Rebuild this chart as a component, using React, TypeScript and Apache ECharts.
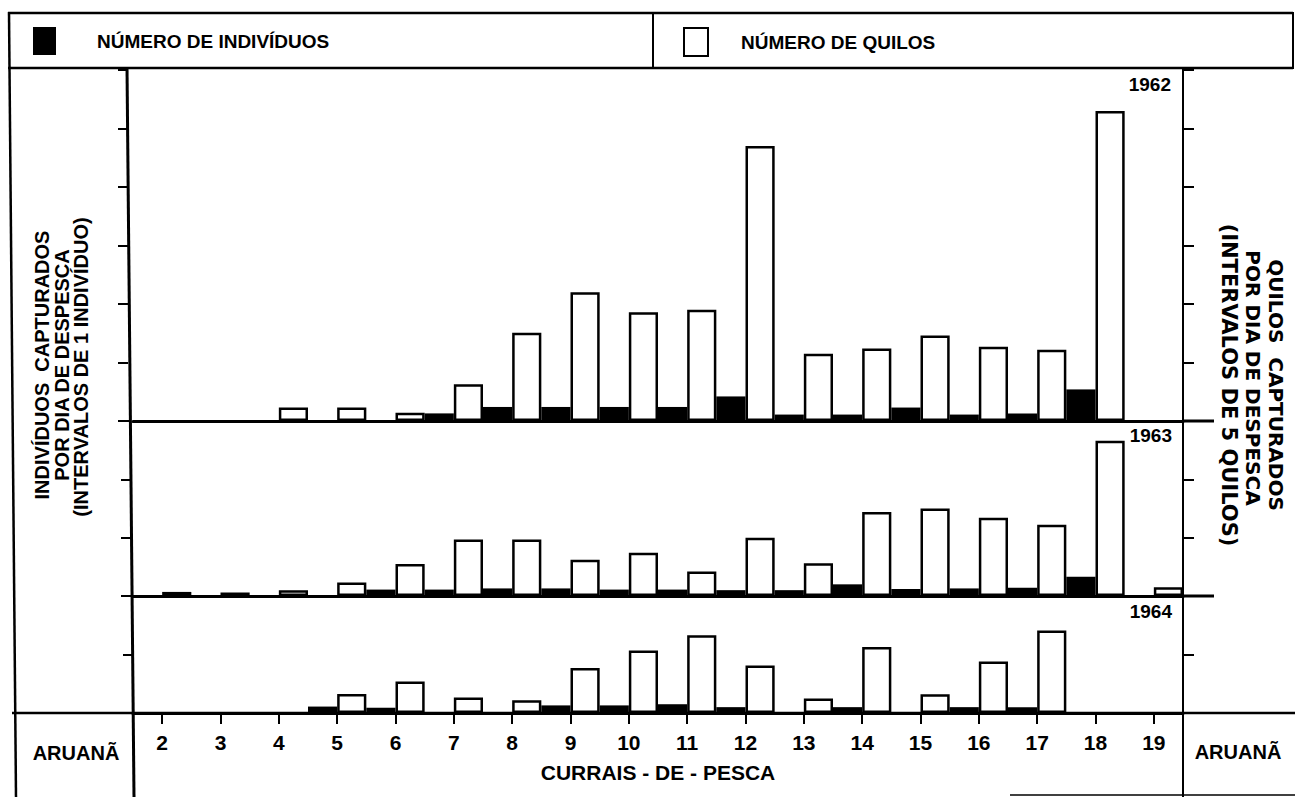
import React, { useEffect, useRef } from "react";
import * as echarts from "echarts";

// ---- data ----
const categories = ["2", "3", "4", "5", "6", "7", "8", "9", "10", "11", "12", "13", "14", "15", "16", "17", "18", "19"];
const years = ["1962", "1963", "1964"];

// individuals captured per day (left axis, ticks every 1 individual)
const ind1962 = [0, 0, 0, 0, 0, 0.13, 0.24, 0.24, 0.24, 0.24, 0.42, 0.11, 0.11, 0.23, 0.11, 0.13, 0.54, 0];
const ind1963 = [0, 0, 0, 0, 0.11, 0.11, 0.13, 0.13, 0.11, 0.11, 0.1, 0.1, 0.2, 0.12, 0.13, 0.14, 0.33, 0];
const ind1964 = [0, 0, 0, 0.11, 0.09, 0, 0, 0.13, 0.13, 0.15, 0.1, 0, 0.1, 0, 0.1, 0.1, 0, 0];

// kilos captured per day (right axis, ticks every 5 kilos)
const kg1962 = [0, 0, 1.15, 1.15, 0.7, 3.15, 7.55, 11.0, 9.3, 9.5, 23.5, 5.75, 6.2, 7.3, 6.35, 6.1, 26.5, 0];
const kg1963 = [0.35, 0.3, 0.5, 1.15, 2.75, 4.85, 4.85, 3.1, 3.7, 2.1, 5.0, 2.8, 7.2, 7.5, 6.7, 6.1, 13.3, 0.75];
const kg1964 = [0, 0, 0, 1.63, 2.7, 1.33, 1.1, 3.85, 5.35, 6.65, 4.05, 1.25, 5.65, 1.6, 4.4, 7.05, 0, 0];

const indMax = [6, 3, 2];
const kgMax = [30, 15, 10];

const legendInd = "NÚMERO DE INDIVÍDUOS";
const legendKg = "NÚMERO DE QUILOS";
const xName = "CURRAIS - DE - PESCA";
const sideLabel = "ARUANÃ";
const leftTitle = ["INDIVÍDUOS  CAPTURADOS", "POR DIA DE DESPESCA", "(INTERVALOS DE 1 INDIVÍDUO)"];
const rightTitle = ["QUILOS  CAPTURADOS", "POR DIA DE DESPESCA", "(INTERVALOS DE 5 QUILOS)"];

const FONT = '"Liberation Sans", Arial, sans-serif';
const WIDE = '"DejaVu Sans", sans-serif';

export default function App() {
  const ref = useRef<HTMLDivElement>(null);
  useEffect(() => {
    if (!ref.current) return;
    const chart = echarts.init(ref.current, null, { renderer: "svg" });
    const inds = [ind1962, ind1963, ind1964];
    const kgs = [kg1962, kg1963, kg1964];
    const gridPos = [
      { top: 70, height: 351, off: 5 },
      { top: 421, height: 175, off: 2 },
      { top: 596, height: 117, off: 0 },
    ];
    const grid = gridPos.map((g) => ({ left: 133, width: 1050, top: g.top, height: g.height }));
    const xAxis = gridPos.map((_, i) => ({
      type: "category",
      gridIndex: i,
      data: categories,
      boundaryGap: true,
      axisLine: { show: true, onZero: false, lineStyle: { color: "#000", width: 3 } },
      axisTick: i === 2 ? { show: true, alignWithLabel: true, length: 11, lineStyle: { color: "#000", width: 2 } } : { show: false },
      axisLabel: i === 2 ? { show: true, margin: 19, color: "#000", fontSize: 21, fontWeight: "bold", fontFamily: FONT } : { show: false },
      name: i === 2 ? xName : "",
      nameLocation: "middle",
      nameGap: 49,
      nameTextStyle: { color: "#000", fontSize: 21, fontWeight: "bold", fontFamily: FONT },
      splitLine: { show: false },
    }));
    const yAxis: any[] = [];
    gridPos.forEach((g, i) => {
      yAxis.push({
        type: "value",
        gridIndex: i,
        position: "left",
        offset: g.off,
        min: 0,
        max: indMax[i],
        interval: 1,
        axisLine: { show: false },
        axisTick: { show: true, length: 10, lineStyle: { color: "#000", width: 2 } },
        axisLabel: { show: false },
        splitLine: { show: false },
      });
      yAxis.push({
        type: "value",
        gridIndex: i,
        position: "right",
        min: 0,
        max: kgMax[i],
        interval: 5,
        axisLine: { show: true, lineStyle: { color: "#000", width: 2 } },
        axisTick: { show: true, length: 11, lineStyle: { color: "#000", width: 2 } },
        axisLabel: { show: false },
        splitLine: { show: false },
      });
    });
    const series: any[] = [];
    gridPos.forEach((_, i) => {
      series.push({
        type: "bar",
        name: legendInd,
        xAxisIndex: i,
        yAxisIndex: 2 * i,
        data: inds[i].map((v) => (v === 0 ? null : v)),
        barGap: "0%",
        barCategoryGap: "0%",
        itemStyle: { color: "#000" },
        z: 2,
      });
      series.push({
        type: "bar",
        name: legendKg,
        xAxisIndex: i,
        yAxisIndex: 2 * i + 1,
        data: kgs[i].map((v) => (v === 0 ? null : v)),
        barGap: "0%",
        barCategoryGap: "0%",
        itemStyle: { color: "#fff", borderColor: "#000", borderWidth: 2.5 },
        z: 3,
      });
    });

    const line = (x1: number, y1: number, x2: number, y2: number, w: number) => ({
      type: "line",
      shape: { x1, y1, x2, y2 },
      style: { stroke: "#000", lineWidth: w },
      z: 10,
    });
    const txt = (text: string, x: number, y: number, size: number, align: string, rotation = 0, family = FONT) => ({
      type: "text",
      x,
      y,
      rotation,
      z: 10,
      style: {
        text,
        x: 0,
        y: 0,
        fill: "#000",
        font: `bold ${size}px ${family}`,
        align,
        textAlign: align,
        verticalAlign: "middle",
        textVerticalAlign: "middle",
      },
    });

    const graphic: any[] = [
      line(8, 13, 1293, 13, 2.5),
      line(8, 68, 1293, 68, 2.5),
      line(9, 12, 16, 797, 2.5),
      line(1293, 12, 1293, 69, 2),
      line(653, 13, 653, 68, 2),
      line(12, 713, 1295, 713, 2.5),
      line(127, 67, 134, 797, 3),
      line(1183, 67, 1183, 797, 2),
      line(1183, 421, 1214, 421, 3),
      line(1183, 596, 1214, 596, 3),
      line(1010, 795, 1295, 795, 1.5),
      txt(years[0], 1171, 84, 19, "right"),
      txt(years[1], 1172, 435, 19, "right"),
      txt(years[2], 1172, 611, 19, "right"),
      txt(sideLabel, 76, 753, 20, "center"),
      txt(sideLabel, 1238, 752, 20, "center"),
      txt(leftTitle[0], 42, 365, 20, "center", Math.PI / 2),
      txt(leftTitle[1], 62, 365, 20, "center", Math.PI / 2),
      txt(leftTitle[2], 81, 367, 20, "center", Math.PI / 2),
      txt(rightTitle[0], 1276, 385, 20, "center", -Math.PI / 2, WIDE),
      txt(rightTitle[1], 1253, 378, 20, "center", -Math.PI / 2, WIDE),
      txt(rightTitle[2], 1229, 385, 21, "center", -Math.PI / 2, WIDE),
    ];

    chart.setOption({
      animation: false,
      backgroundColor: "#fff",
      legend: [
        {
          left: 33,
          top: 27,
          padding: 0,
          itemWidth: 23,
          itemHeight: 28,
          selectedMode: false,
          data: [{ name: legendInd, icon: "rect", itemStyle: { color: "#000" } }],
          textStyle: { color: "#000", fontSize: 19, fontWeight: "bold", fontFamily: FONT, padding: [0, 0, 0, 36] },
        },
        {
          left: 683,
          top: 27,
          padding: 0,
          itemWidth: 24,
          itemHeight: 28,
          selectedMode: false,
          data: [{ name: legendKg, icon: "rect", itemStyle: { color: "#fff", borderColor: "#000", borderWidth: 2 } }],
          textStyle: { color: "#000", fontSize: 19, fontWeight: "bold", fontFamily: FONT, padding: [0, 0, 0, 28] },
        },
      ],
      grid,
      xAxis,
      yAxis,
      series,
      graphic,
    });
    return () => chart.dispose();
  }, []);
  return (
    <div
      ref={ref}
      style={{ position: "absolute", left: 0, top: 0, width: 1295, height: 797, background: "#fff" }}
    />
  );
}
